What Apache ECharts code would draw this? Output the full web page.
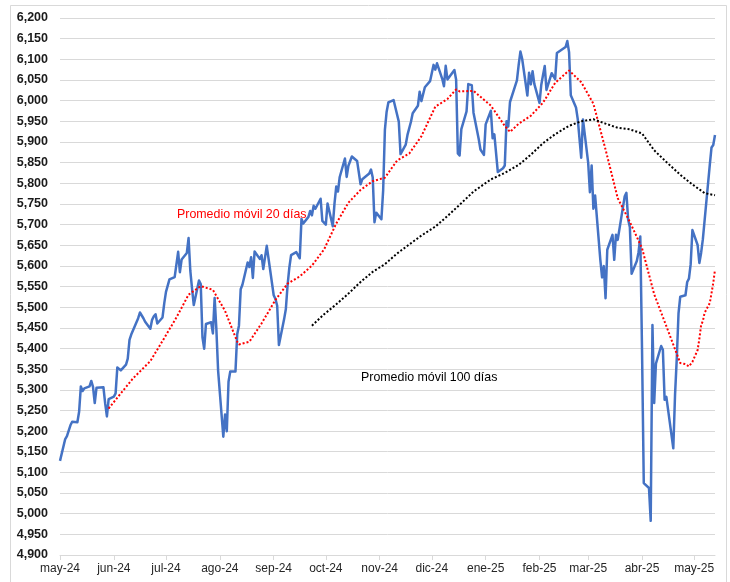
<!DOCTYPE html>
<html>
<head>
<meta charset="utf-8">
<script src="https://cdn.jsdelivr.net/npm/echarts@6/dist/echarts.min.js"></script>
<style>
  html, body { margin: 0; padding: 0; background: #fff; }
  #chart { width: 730px; height: 582px; }
</style>
</head>
<body>
<div id="chart"></div>
<script>
// S&P 500 cierre diario
const dates = [
  '2024-05-03','2024-05-06','2024-05-07','2024-05-08','2024-05-09','2024-05-10','2024-05-13','2024-05-14','2024-05-15','2024-05-16',
  '2024-05-17','2024-05-20','2024-05-21','2024-05-22','2024-05-23','2024-05-24','2024-05-28','2024-05-29','2024-05-30','2024-05-31',
  '2024-06-03','2024-06-04','2024-06-05','2024-06-06','2024-06-07','2024-06-10','2024-06-11','2024-06-12','2024-06-13','2024-06-14',
  '2024-06-17','2024-06-18','2024-06-20','2024-06-21','2024-06-24','2024-06-25','2024-06-26','2024-06-27','2024-06-28','2024-07-01',
  '2024-07-02','2024-07-03','2024-07-05','2024-07-08','2024-07-09','2024-07-10','2024-07-11','2024-07-12','2024-07-15','2024-07-16',
  '2024-07-17','2024-07-18','2024-07-19','2024-07-22','2024-07-23','2024-07-24','2024-07-25','2024-07-26','2024-07-29','2024-07-30',
  '2024-07-31','2024-08-01','2024-08-02','2024-08-05','2024-08-06','2024-08-07','2024-08-08','2024-08-09','2024-08-12','2024-08-13',
  '2024-08-14','2024-08-15','2024-08-16','2024-08-19','2024-08-20','2024-08-21','2024-08-22','2024-08-23','2024-08-26','2024-08-27',
  '2024-08-28','2024-08-29','2024-08-30','2024-09-03','2024-09-04','2024-09-05','2024-09-06','2024-09-09','2024-09-10','2024-09-11',
  '2024-09-12','2024-09-13','2024-09-16','2024-09-17','2024-09-18','2024-09-19','2024-09-20','2024-09-23','2024-09-24','2024-09-25',
  '2024-09-26','2024-09-27','2024-09-30','2024-10-01','2024-10-02','2024-10-03','2024-10-04','2024-10-07','2024-10-08','2024-10-09',
  '2024-10-10','2024-10-11','2024-10-14','2024-10-15','2024-10-16','2024-10-17','2024-10-18','2024-10-21','2024-10-22','2024-10-23',
  '2024-10-24','2024-10-25','2024-10-28','2024-10-29','2024-10-30','2024-10-31','2024-11-01','2024-11-04','2024-11-05','2024-11-06',
  '2024-11-07','2024-11-08','2024-11-11','2024-11-12','2024-11-13','2024-11-14','2024-11-15','2024-11-18','2024-11-19','2024-11-20',
  '2024-11-21','2024-11-22','2024-11-25','2024-11-26','2024-11-27','2024-11-29','2024-12-02','2024-12-03','2024-12-04','2024-12-05',
  '2024-12-06','2024-12-09','2024-12-10','2024-12-11','2024-12-12','2024-12-13','2024-12-16','2024-12-17','2024-12-18','2024-12-19',
  '2024-12-20','2024-12-23','2024-12-24','2024-12-26','2024-12-27','2024-12-30','2024-12-31','2025-01-02','2025-01-03','2025-01-06',
  '2025-01-07','2025-01-08','2025-01-10','2025-01-13','2025-01-14','2025-01-15','2025-01-16','2025-01-17','2025-01-21','2025-01-22',
  '2025-01-23','2025-01-24','2025-01-27','2025-01-28','2025-01-29','2025-01-30','2025-01-31','2025-02-03','2025-02-04','2025-02-05',
  '2025-02-06','2025-02-07','2025-02-10','2025-02-11','2025-02-12','2025-02-13','2025-02-14','2025-02-18','2025-02-19','2025-02-20',
  '2025-02-21','2025-02-24','2025-02-25','2025-02-26','2025-02-27','2025-02-28','2025-03-03','2025-03-04','2025-03-05','2025-03-06',
  '2025-03-07','2025-03-10','2025-03-11','2025-03-12','2025-03-13','2025-03-14','2025-03-17','2025-03-18','2025-03-19','2025-03-20',
  '2025-03-21','2025-03-24','2025-03-25','2025-03-26','2025-03-27','2025-03-28','2025-03-31','2025-04-01','2025-04-02','2025-04-03',
  '2025-04-04','2025-04-07','2025-04-08','2025-04-09','2025-04-10','2025-04-11','2025-04-14','2025-04-15','2025-04-16','2025-04-17',
  '2025-04-21','2025-04-22','2025-04-23','2025-04-24','2025-04-25','2025-04-28','2025-04-29','2025-04-30','2025-05-01','2025-05-02',
  '2025-05-05','2025-05-06','2025-05-07','2025-05-08','2025-05-09','2025-05-12','2025-05-13','2025-05-14','2025-05-15'
]
const sp500 = [
  5127.79,5180.74,5187.70,5187.67,5214.08,5222.68,5221.42,5246.68,5308.15,5297.10,
  5303.27,5308.13,5321.41,5307.01,5267.84,5304.72,5306.04,5266.95,5235.48,5277.51,
  5283.40,5291.34,5354.03,5352.96,5346.99,5360.79,5375.32,5421.03,5433.74,5431.60,
  5473.23,5487.03,5473.17,5464.62,5447.87,5469.30,5477.90,5482.87,5460.48,5475.09,
  5509.01,5537.02,5567.19,5572.85,5576.98,5633.91,5584.54,5615.35,5631.22,5667.20,
  5588.27,5544.59,5505.00,5564.41,5555.74,5427.13,5399.22,5459.10,5463.54,5436.44,
  5522.30,5446.68,5346.56,5186.33,5240.03,5199.50,5319.31,5344.16,5344.39,5434.43,
  5455.21,5543.22,5554.25,5608.25,5597.12,5620.85,5570.64,5634.61,5616.84,5625.80,
  5592.18,5591.96,5648.40,5528.93,5520.07,5503.41,5408.42,5471.05,5495.52,5554.13,
  5595.76,5626.02,5633.09,5634.58,5618.26,5713.64,5702.55,5718.57,5732.93,5722.26,
  5745.37,5738.17,5762.48,5708.75,5709.54,5699.94,5751.07,5695.94,5751.13,5792.04,
  5780.05,5815.03,5859.85,5815.26,5842.47,5841.47,5864.67,5853.98,5851.20,5797.42,
  5809.86,5808.12,5823.52,5832.92,5813.67,5705.45,5728.80,5712.69,5782.76,5929.04,
  5973.10,5995.54,6001.35,5983.99,5985.38,5949.17,5870.62,5893.62,5916.98,5917.11,
  5948.71,5969.34,5987.37,6021.63,5998.74,6032.38,6047.15,6049.88,6086.49,6075.11,
  6090.27,6052.85,6034.91,6084.19,6051.25,6051.09,6074.08,6050.61,5872.16,5867.08,
  5930.85,5974.07,6040.04,6037.59,5970.84,5906.94,5881.63,5868.55,5942.47,5975.38,
  5909.03,5918.25,5827.04,5836.22,5842.91,5949.91,5937.34,5996.66,6049.24,6086.37,
  6118.71,6101.24,6012.28,6067.70,6039.31,6071.17,6040.53,5994.57,6037.88,6061.48,
  6083.57,6025.99,6066.44,6068.50,6051.97,6115.07,6114.63,6129.58,6144.15,6117.52,
  6013.13,5983.25,5955.25,5956.06,5861.57,5954.50,5849.72,5778.15,5842.63,5738.52,
  5770.20,5614.56,5572.07,5599.30,5521.52,5638.94,5675.12,5614.66,5675.29,5662.89,
  5667.56,5767.57,5776.65,5712.20,5693.31,5580.94,5611.85,5633.07,5670.97,5396.52,
  5074.08,5062.25,4982.77,5456.90,5268.05,5363.36,5405.97,5396.63,5275.70,5282.70,
  5158.20,5287.76,5375.86,5484.77,5525.21,5528.75,5560.83,5569.06,5604.14,5686.67,
  5650.38,5606.91,5631.28,5663.94,5659.91,5844.19,5886.55,5892.58,5916.93
]

// Promedio móvil 20 días
const ma20Dates = [
  '2024-05-31','2024-06-07','2024-06-14','2024-06-24','2024-07-01','2024-07-09','2024-07-16','2024-07-23','2024-07-30','2024-08-06',
  '2024-08-13','2024-08-14','2024-08-15','2024-08-20','2024-08-27','2024-09-04','2024-09-11','2024-09-18','2024-09-25','2024-10-02',
  '2024-10-09','2024-10-16','2024-10-23','2024-10-30','2024-11-06','2024-11-13','2024-11-20','2024-11-27','2024-12-05','2024-12-12',
  '2024-12-17','2024-12-19','2024-12-27','2025-01-06','2025-01-14','2025-01-17','2025-01-22','2025-01-29','2025-02-05','2025-02-12',
  '2025-02-20','2025-02-27','2025-03-06','2025-03-13','2025-03-20','2025-03-27','2025-04-03','2025-04-10','2025-04-17','2025-04-25',
  '2025-04-28','2025-04-29','2025-04-30','2025-05-01','2025-05-02','2025-05-05','2025-05-06','2025-05-07','2025-05-08','2025-05-09',
  '2025-05-12','2025-05-13','2025-05-14','2025-05-15'
]
const ma20 = [
  5254.6,5291.2,5327.5,5369.4,5418.1,5474.9,5530.3,5551.0,5541.9,5490.9,
  5416.4,5409.7,5409.6,5416.4,5460.5,5517.5,5557.0,5574.5,5600.6,5639.7,
  5702.6,5752.9,5783.8,5805.0,5813.4,5854.8,5871.7,5913.6,5985.2,6003.9,
  6027.0,6022.3,6023.6,5987.8,5938.8,5924.2,5944.1,5963.4,5994.9,6043.0,
  6073.1,6044.6,5992.5,5881.6,5763.9,5706.3,5642.8,5531.1,5454.0,5364.7,
  5362.1,5359.5,5356.3,5353.0,5367.5,5396.3,5423.5,5456.0,5466.3,5485.9,
  5510.0,5534.0,5558.8,5590.8
]

// Promedio móvil 100 días
const ma100Dates = [
  '2024-09-25','2024-10-02','2024-10-09','2024-10-16','2024-10-23','2024-10-30','2024-11-06','2024-11-13','2024-11-20','2024-11-27',
  '2024-12-05','2024-12-12','2024-12-19','2024-12-27','2025-01-06','2025-01-14','2025-01-22','2025-01-29','2025-02-05','2025-02-12',
  '2025-02-20','2025-02-27','2025-03-06','2025-03-13','2025-03-20','2025-03-27','2025-04-03','2025-04-10','2025-04-17','2025-04-25',
  '2025-05-02','2025-05-09','2025-05-15'
]
const ma100 = [
  5455.2,5482.8,5506.8,5532.8,5561.0,5585.6,5604.0,5629.9,5651.7,5673.3,
  5694.9,5720.5,5747.8,5779.9,5809.2,5825.0,5844.5,5869.1,5896.8,5918.7,
  5939.0,5950.0,5954.8,5944.4,5934.1,5930.3,5920.6,5879.7,5851.5,5820.5,
  5797.1,5776.1,5771.0
]

// etiquetas del eje x
const tickDates = [
  '2024-05-03','2024-06-03','2024-07-03','2024-08-03','2024-09-03','2024-10-03','2024-11-03',
  '2024-12-03','2025-01-03','2025-02-03','2025-03-03','2025-04-03','2025-05-03'
]
const tickLabels = ['may-24','jun-24','jul-24','ago-24','sep-24','oct-24','nov-24','dic-24','ene-25','feb-25','mar-25','abr-25','may-25']

// fechas como número de días (UTC) para un eje de valores
const day = (s) => {
  const [y, m, d] = s.split('-').map(Number)
  return Date.UTC(y, m - 1, d) / 86400000
}
const pairs = (ds, vs) => ds.map((d, i) => [day(d), vs[i]])
const tickValues = tickDates.map(day)

const chart = echarts.init(document.getElementById('chart'))

const options = {
  animation: false,
  backgroundColor: '#fff',
  grid: { left: 60, right: 15, top: 18, bottom: 27, containLabel: false },
  xAxis: {
    type: 'value',
    min: day('2024-05-03'),
    max: day('2025-05-15'),
    axisLine: { show: true, lineStyle: { color: '#d9d9d9', width: 1 } },
    axisTick: {
      show: true,
      customValues: tickValues,
      length: 5,
      lineStyle: { color: '#d9d9d9' }
    },
    axisLabel: {
      customValues: tickValues,
      color: '#262626',
      fontFamily: 'Liberation Sans, Arial, sans-serif',
      fontSize: 12,
      margin: 8,
      showMinLabel: true,
      showMaxLabel: true,
      formatter: (v) => {
        const i = tickValues.indexOf(v)
        return i >= 0 ? tickLabels[i] : ''
      }
    },
    splitLine: { show: false }
  },
  yAxis: {
    type: 'value',
    min: 4900,
    max: 6200,
    interval: 50,
    axisLine: { show: false },
    axisTick: { show: false },
    axisLabel: {
      color: '#1a1a1a',
      fontFamily: 'Liberation Sans, Arial, sans-serif',
      fontSize: 12.5,
      fontWeight: 'bold',
      margin: 12,
      formatter: (v) => v.toLocaleString('en-US')
    },
    splitLine: { lineStyle: { color: '#d9d9d9', width: 1 } }
  },
  series: [
    {
      name: 'S&P 500',
      type: 'line',
      data: pairs(dates, sp500),
      symbol: 'none',
      lineStyle: { color: '#4472C4', width: 2.5, join: 'round' },
      z: 2
    },
    {
      name: 'Promedio móvil 20 días',
      type: 'line',
      data: pairs(ma20Dates, ma20),
      symbol: 'none',
      lineStyle: { color: '#ff0000', width: 2, type: [2, 2] },
      z: 3
    },
    {
      name: 'Promedio móvil 100 días',
      type: 'line',
      data: pairs(ma100Dates, ma100),
      symbol: 'none',
      lineStyle: { color: '#000000', width: 2, type: [2, 2] },
      z: 3
    }
  ],
  graphic: [
    {
      type: 'rect',
      shape: { x: 10.5, y: 5.5, width: 716, height: 600 },
      style: { fill: 'none', stroke: '#d9d9d9', lineWidth: 1 },
      silent: true
    },
    {
      type: 'text',
      left: 177,
      top: 209,
      style: {
        text: 'Promedio móvil 20 días',
        fill: '#ff0000',
        font: '12.4px "Liberation Sans", Arial, sans-serif'
      }
    },
    {
      type: 'text',
      left: 361,
      top: 372,
      style: {
        text: 'Promedio móvil 100 días',
        fill: '#000000',
        font: '12.4px "Liberation Sans", Arial, sans-serif'
      }
    }
  ]
}

chart.setOption(options)
</script>
</body>
</html>
